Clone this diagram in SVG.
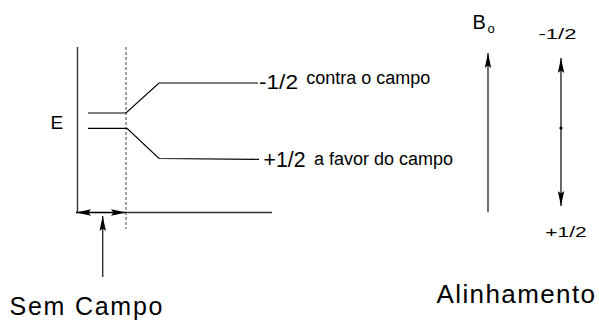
<svg xmlns="http://www.w3.org/2000/svg" width="599" height="320" viewBox="0 0 599 320">
  <style>
    .t { font-family: "Liberation Sans", Arial, sans-serif; fill: #000; }
    .ln { stroke: #000; stroke-width: 1.2; fill: none; }
    .ax { stroke: #333; stroke-width: 1.4; fill: none; }
    .dash { stroke: #444; stroke-width: 1; stroke-dasharray: 3 2; fill: none; }
  </style>
  <defs>
    <marker id="ah" viewBox="0 0 15 7" refX="15" refY="3.5" markerWidth="15" markerHeight="7" markerUnits="userSpaceOnUse" orient="auto">
      <path d="M0,0.3 L15,3.5 L0,6.7 L2.5,3.5 z" fill="#000"/>
    </marker>
  </defs>

  <g id="energy-axes">
    <line class="ax" x1="77.5" y1="47" x2="77.5" y2="213"/>
    <line class="ax" x1="76" y1="212.5" x2="272" y2="212.5"/>
    <line class="dash" x1="126" y1="47" x2="126" y2="229"/>
    <text class="t" x="50.5" y="129.3" font-size="19">E</text>
  </g>

  <g id="level-upper">
    <polyline class="ln" points="88,113 126,113 159,83 258,83"/>
    <text class="t" x="259" y="89.3" font-size="21" textLength="39" lengthAdjust="spacingAndGlyphs">-1/2</text>
    <text class="t" x="306.3" y="83.5" font-size="18">contra o campo</text>
  </g>

  <g id="level-lower">
    <polyline class="ln" points="88,128.3 127,128.3 159,158.5 259,159.3"/>
    <text class="t" x="263.5" y="166.7" font-size="22" textLength="42" lengthAdjust="spacingAndGlyphs">+1/2</text>
    <text class="t" x="314" y="165" font-size="18">a favor do campo</text>
  </g>

  <g id="connectors">
    <line class="ln" x1="101" y1="212.5" x2="76" y2="212.5" marker-end="url(#ah)"/>
    <line class="ln" x1="101" y1="212.5" x2="126" y2="212.5" marker-end="url(#ah)"/>
    <line class="ax" x1="102.7" y1="277" x2="102.7" y2="216" marker-end="url(#ah)"/>
    <line class="ax" x1="488" y1="212" x2="488" y2="53" marker-end="url(#ah)"/>
    <line class="ln" x1="561" y1="128" x2="561" y2="58" marker-end="url(#ah)"/>
    <line class="ln" x1="561" y1="128" x2="561" y2="206" marker-end="url(#ah)"/>
  </g>

  <g id="sem-campo">
    <text class="t" x="9.5" y="314.5" font-size="25" textLength="153" lengthAdjust="spacing">Sem Campo</text>
  </g>

  <g id="field-b0">
    <text class="t" x="472.5" y="29.3" font-size="20">B</text>
    <text class="t" x="487.5" y="33.3" font-size="13">o</text>
  </g>

  <g id="spin">
    <circle cx="561" cy="128" r="1.6" fill="#000"/>
    <text class="t" x="538.5" y="39.3" font-size="15.5" textLength="38" lengthAdjust="spacingAndGlyphs">-1/2</text>
    <text class="t" x="545.3" y="236.7" font-size="15" textLength="41.5" lengthAdjust="spacingAndGlyphs">+1/2</text>
  </g>

  <g id="alinhamento">
    <text class="t" x="436.5" y="302.7" font-size="26" letter-spacing="1.4">Alinhamento</text>
  </g>
</svg>
